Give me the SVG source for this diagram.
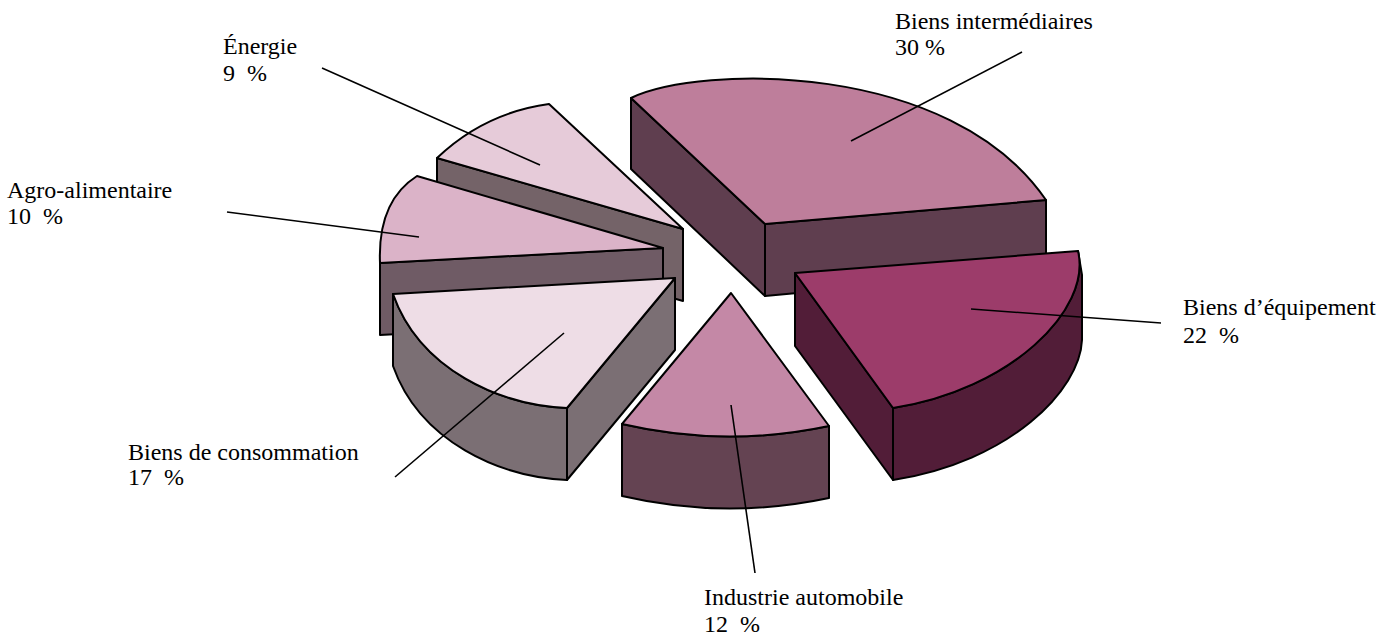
<svg xmlns="http://www.w3.org/2000/svg" width="1391" height="638" viewBox="0 0 1391 638">
<style>
.edge{stroke:#000;stroke-width:2;stroke-linejoin:round}
.lead{stroke:#000;stroke-width:1.6;fill:none}
.lbl{font-family:"Liberation Serif","Times New Roman",serif;font-size:24px;fill:#000}
</style>
<rect width="1391" height="638" fill="#fff"/>
<g id="energie">
  <polygon class="edge" fill="#746368" points="437,158 683,229 683,301 437,230"/>
  <path class="edge" fill="#E6CBD9" d="M437,158 Q484,113 549,104 L683,229 Z"/>
  <text class="lbl" xml:space="preserve"><tspan x="223" y="54">Énergie</tspan><tspan x="223" y="81">9  %</tspan></text>
</g>
<g id="agro">
  <polygon class="edge" fill="#6F5B65" points="380,263 663,248 663,320 380,335"/>
  <path class="edge" fill="#DBB3C8" d="M417,176 C395,190 378,215 380,263 L663,248 Z"/>
  <text class="lbl" xml:space="preserve"><tspan x="7" y="198">Agro-alimentaire</tspan><tspan x="7" y="224">10  %</tspan></text>
</g>
<g id="intermediaires">
  <polygon class="edge" fill="#5F3E4F" points="631,98 765,224 765,296 631,169"/>
  <polygon class="edge" fill="#5F3E4F" points="765,224 1046,200 1046,270 765,296"/>
  <path class="edge" fill="#BE7E9B" d="M631,98 C700,65 950,60 1046,200 L765,224 Z"/>
  <text class="lbl" xml:space="preserve"><tspan x="895" y="29">Biens intermédiaires</tspan><tspan x="895" y="55">30 %</tspan></text>
</g>
<g id="consommation">
  <polygon class="edge" fill="#7B6F74" points="675,278 567,408 567,480 675,350"/>
  <path class="edge" fill="#7B6F74" d="M393,294 C420,370 500,405 567,408 L567,480 C500,477 420,442 393,366 Z"/>
  <path class="edge" fill="#EEDDE6" d="M393,294 L675,278 L567,408 C500,405 420,370 393,294 Z"/>
  <text class="lbl" xml:space="preserve"><tspan x="128" y="460">Biens de consommation</tspan><tspan x="128" y="485">17  %</tspan></text>
</g>
<g id="automobile">
  <path class="edge" fill="#644352" d="M622,424 Q725,448 829,426 L829,498 Q725,520 622,496 Z"/>
  <path class="edge" fill="#C488A6" d="M731,293 L829,426 Q725,448 622,424 Z"/>
  <text class="lbl" xml:space="preserve"><tspan x="704" y="605">Industrie automobile</tspan><tspan x="704" y="632">12  %</tspan></text>
</g>
<g id="equipement">
  <polygon class="edge" fill="#521D38" points="795,273 893,408 893,480 795,346"/>
  <path class="edge" fill="#521D38" d="M893,408 C1010,390 1092,310 1078,251 L1082,275 L1082,340 C1080,390 1010,462 893,480 Z"/>
  <path class="edge" fill="#9C3C6A" d="M795,273 L1078,251 C1092,310 1010,390 893,408 Z"/>
  <text class="lbl" xml:space="preserve"><tspan x="1183" y="315">Biens d’équipement</tspan><tspan x="1183" y="343">22  %</tspan></text>
</g>
<g id="connectors">
  <line class="lead" x1="322" y1="68" x2="540" y2="165"/>
  <line class="lead" x1="227" y1="212" x2="419" y2="237"/>
  <line class="lead" x1="1022" y1="52" x2="851" y2="141"/>
  <line class="lead" x1="971" y1="309" x2="1161" y2="323"/>
  <line class="lead" x1="731" y1="405" x2="755" y2="573"/>
  <line class="lead" x1="564" y1="333" x2="395" y2="477"/>
</g>
</svg>
